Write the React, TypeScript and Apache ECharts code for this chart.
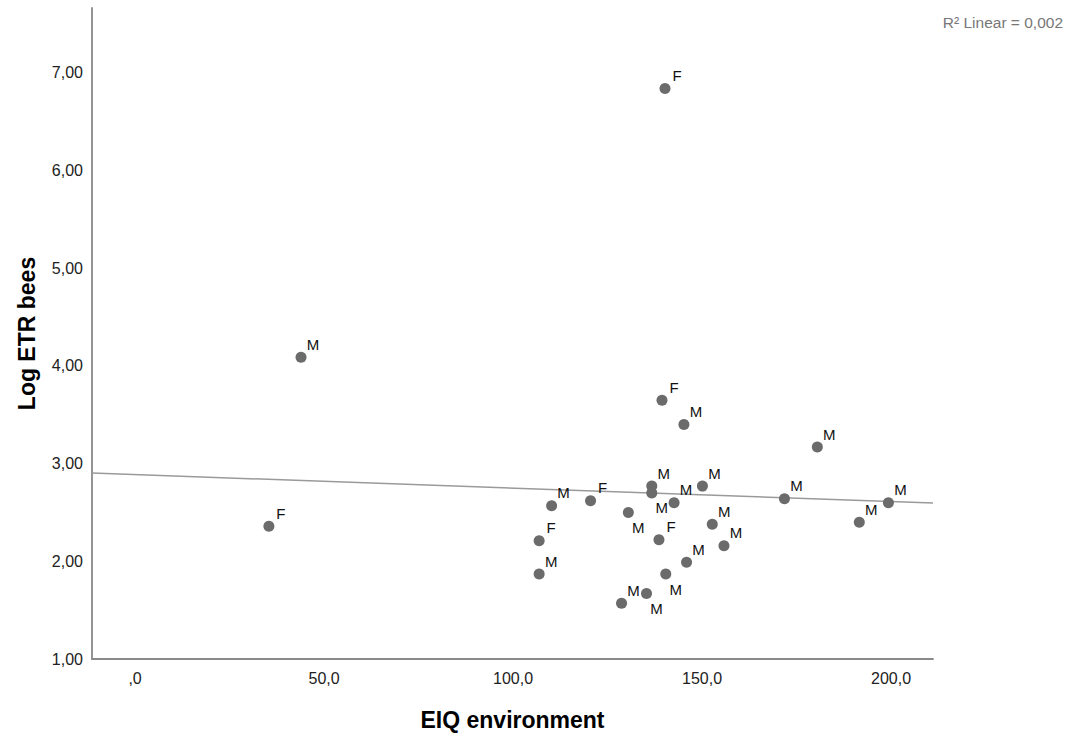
import React, { useEffect, useRef } from "react";
import * as echarts from "echarts";

// Data
const eiqEnvironment = [35.4, 43.9, 140.2, 139.4, 145.2, 180.5, 110.2, 120.5, 136.7, 136.7, 142.6, 150.1, 130.5, 106.9, 106.9, 138.6, 152.7, 155.8, 145.9, 140.4, 135.3, 128.7, 171.8, 199.3, 191.6];
const logEtrBees = [2.36, 4.09, 6.84, 3.65, 3.40, 3.17, 2.57, 2.62, 2.77, 2.70, 2.60, 2.77, 2.50, 2.21, 1.87, 2.22, 2.38, 2.16, 1.99, 1.87, 1.67, 1.57, 2.64, 2.60, 2.40];
const sexLabels = ["F", "M", "F", "F", "M", "M", "M", "F", "M", "M", "M", "M", "M", "F", "M", "F", "M", "M", "M", "M", "M", "M", "M", "M", "M"];
const labelsBelow = [9, 12, 19, 20];

const xTicks = [0, 50, 100, 150, 200];
const yTicks = [1, 2, 3, 4, 5, 6, 7];
const xRange = [-11.4, 211.1];
const yRange = [1, 7.665];

const fitIntercept = 2.888;
const fitSlope = -0.00138;
const rSquaredText = "R² Linear = 0,002";

const FONT = "'Liberation Sans', Arial, sans-serif";

export default function App() {
  const ref = useRef<HTMLDivElement>(null);

  useEffect(() => {
    document.body.style.margin = "0";
    const chart = echarts.init(ref.current!, null, { renderer: "svg" });

    const points = eiqEnvironment.map((x, i) => ({
      value: [x, logEtrBees[i]],
      name: sexLabels[i],
      label: {
        offset: labelsBelow.includes(i) ? [10, 15] : [12, -13],
      },
    }));

    const fitLine = xRange.map((x) => [x, fitIntercept + fitSlope * x]);

    chart.setOption({
      animation: false,
      backgroundColor: "#ffffff",
      textStyle: { fontFamily: FONT },
      grid: {
        left: 92,
        right: 137,
        top: 8,
        bottom: 79,
        containLabel: false,
        outerBoundsMode: "none",
      },
      xAxis: {
        type: "value",
        min: xRange[0],
        max: xRange[1],
        name: "EIQ environment",
        nameLocation: "middle",
        nameGap: 49,
        nameTextStyle: { fontFamily: FONT, fontSize: 23, fontWeight: "bold", color: "#000" },
        axisLine: { show: true, onZero: false, lineStyle: { color: "#8a8a8a", width: 1.8 } },
        axisTick: { show: false },
        splitLine: { show: false },
        axisLabel: {
          customValues: xTicks,
          margin: 11,
          fontFamily: FONT,
          fontSize: 16,
          color: "#222",
          formatter: (v: number) => (v === 0 ? ",0" : v.toFixed(1).replace(".", ",")),
        },
      },
      yAxis: {
        type: "value",
        min: yRange[0],
        max: yRange[1],
        name: "Log ETR bees",
        nameLocation: "middle",
        nameGap: 54,
        nameRotate: 90,
        nameTextStyle: { fontFamily: FONT, fontSize: 23, fontWeight: "bold", color: "#000" },
        axisLine: { show: true, onZero: false, lineStyle: { color: "#8a8a8a", width: 1.8 } },
        axisTick: { show: false },
        splitLine: { show: false },
        axisLabel: {
          customValues: yTicks,
          margin: 9,
          padding: [7, 0, 0, 0],
          fontFamily: FONT,
          fontSize: 16,
          color: "#222",
          formatter: (v: number) => v.toFixed(2).replace(".", ","),
        },
      },
      series: [
        {
          type: "line",
          data: fitLine,
          symbol: "none",
          silent: true,
          lineStyle: { color: "#9a9a9a", width: 1.5 },
          z: 1,
        },
        {
          type: "scatter",
          data: points,
          symbolSize: 11,
          itemStyle: { color: "#6b6b6b", opacity: 1 },
          label: {
            show: true,
            position: "inside",
            formatter: (p: any) => p.name,
            fontFamily: FONT,
            fontSize: 15,
            color: "#111",
          },
          z: 2,
        },
      ],
      graphic: [
        {
          type: "text",
          right: 7,
          top: 14,
          style: {
            text: rSquaredText,
            fontFamily: FONT,
            fontSize: 15.5,
            fill: "#777",
          },
        },
      ],
    });

    return () => chart.dispose();
  }, []);

  return <div ref={ref} style={{ width: 1070, height: 738 }} />;
}
